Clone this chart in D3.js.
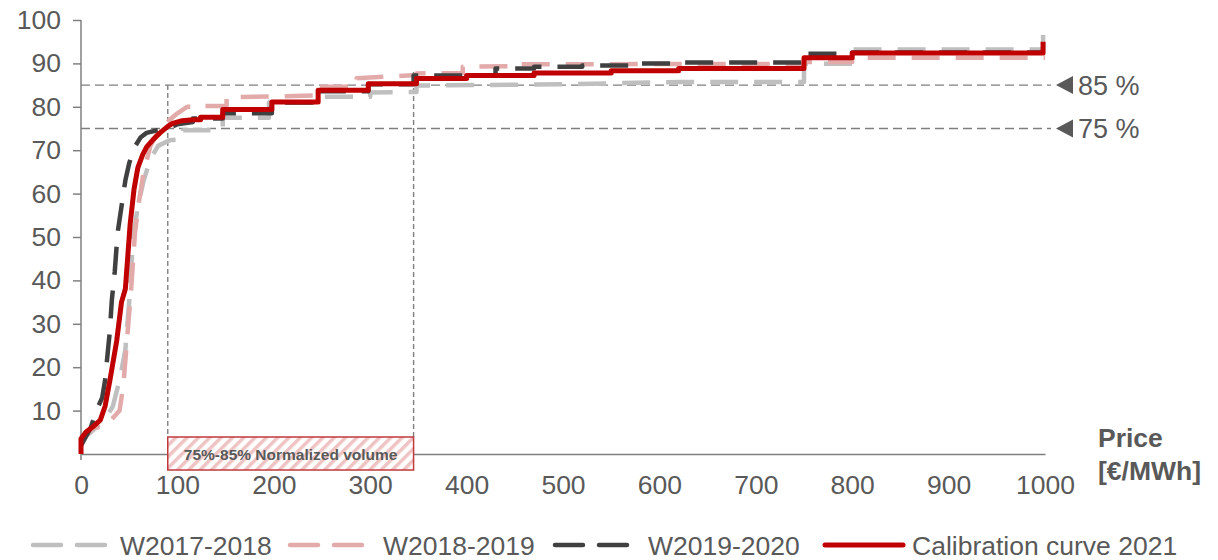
<!DOCTYPE html>
<html><head><meta charset="utf-8">
<script src="https://cdn.jsdelivr.net/npm/d3@7"></script>
<style>
html,body{margin:0;padding:0;background:#fff;}
svg{display:block;font-family:"Liberation Sans",Arial,sans-serif;}
</style></head>
<body><svg id="c" width="1218" height="560"></svg>
<script>
// ---- data ----
const xTicks = [0,100,200,300,400,500,600,700,800,900,1000];
const yTicks = [10,20,30,40,50,60,70,80,90,100];
const seriesNames = ["W2017-2018","W2018-2019","W2019-2020","Calibration curve 2021"];

const w1718Price = [0,5,15,25,33,40,46,50,54,59,65,72,80,92,106,106,147,147,195,195,250,250,300,300,348,348,500,620,750,750,800,800,998,998];
const w1718Pct   = [2,4,6,8,11,17,24,35,50,57,63,68,71,72.3,72.5,74.6,74.6,77.5,77.5,81,81,82.3,82.3,83.3,83.4,84.9,85.2,85.7,85.7,89.9,89.9,93.2,93.2,98.8];

const w1819Price = [0,5,12,27,32,40,44,48,52,56,60,65,72,82,92,100,110,127,127,151,151,246,246,286,286,348,348,396,396,450,450,750,750,800,800,1000];
const w1819Pct   = [2,4,6,6.5,8,10,16,27,38,51,58,65,71,75,77,78.5,80,80,80.2,80.2,82.2,82.6,84.6,84.6,86.6,87.3,87.7,87.8,89.2,89.4,89.8,89.9,90.3,90.3,91.3,91.3];

const w1920Price = [0,5,10,16,22,25,28,30,32,35,38,42,46,50,55,62,68,79,92,100,116,116,147,147,198,198,246,246,298,298,345,345,430,430,470,470,520,520,570,570,620,620,750,750,800,800,1000];
const w1920Pct   = [2,4,6,10,13,17,24,28.5,35.5,42,51,57,63,67,70.5,73,74,74.6,75.2,76,76.5,77.3,77.3,78.5,78.5,81,81,83.6,83.6,85.2,85.2,87.2,87.2,88.8,88.8,89.2,89.2,89.5,89.5,90,90,90.2,90.2,92.2,92.2,92.5,92.5];

const calibPrice = [0,0,5,12,20,25,30,37,42,46,51,55,59,64,68,75,82,90,95,105,116,124,124,147,147,198,198,246,246,298,298,348,348,400,400,470,470,550,550,620,620,750,750,800,800,998,998];
const calibPct   = [0,3.5,5,6.2,7.8,11,17,26,35,38,53,61,66,69,70.7,72.5,74,75.5,76.2,76.8,77,77,77.6,77.6,79.4,79.4,81.1,81.1,83.8,83.8,85.3,85.3,86.5,86.5,87.2,87.2,87.8,87.8,88.3,88.3,88.8,88.8,91.3,91.3,92.4,92.4,95];

const refLevels = [85,75];          // horizontal reference levels (%)
const refLabels = ["85 %","75 %"];
const volumeRange = [90,345];       // normalized-volume price band
const volumeTop = [85,88];          // where the vertical markers start (%)
const bandLabel = "75%-85% Normalized volume";
const xTitle = ["Price","[€/MWh]"];

// ---- chart ----
const svg = d3.select("#c");
const x = d3.scaleLinear().domain([0,1000]).range([81,1045]);
const y = d3.scaleLinear().domain([0,100]).range([454,20]);
const textCol = "#595959", axisCol = "#808080";
const FS = 26.5;

const defs = svg.append("defs");
const pat = defs.append("pattern").attr("id","hatch").attr("patternUnits","userSpaceOnUse")
  .attr("width",8).attr("height",8).attr("patternTransform","rotate(45)");
pat.append("rect").attr("width",8).attr("height",8).attr("fill","#fff");
pat.append("rect").attr("x",0).attr("width",3.5).attr("height",8).attr("fill","#efc3c3");

// reference horizontal dashed lines
refLevels.forEach((v,i)=>{
  svg.append("line").attr("x1",x(0)).attr("x2",x(1000)+6).attr("y1",y(v)).attr("y2",y(v))
    .attr("stroke","#7f7f7f").attr("stroke-width",1.4).attr("stroke-dasharray","9,5");
  const ty = y(v), tx = x(1000)+11;
  svg.append("path").attr("d",`M${tx},${ty} L${tx+17},${ty-9} L${tx+17},${ty+9} Z`).attr("fill",textCol);
  svg.append("text").attr("x",tx+22).attr("y",ty).attr("dy","0.36em").attr("fill",textCol)
    .attr("font-size",27).text(refLabels[i]);
});

// vertical markers
const boxTop = y(0)-17, boxBot = y(0)+16;
volumeRange.forEach((v,i)=>{
  svg.append("line").attr("x1",x(v)).attr("x2",x(v)).attr("y1",y(volumeTop[i])).attr("y2",boxTop)
    .attr("stroke","#7f7f7f").attr("stroke-width",1.4).attr("stroke-dasharray","5,3");
});

// axes
const yAxis = d3.axisLeft(y).tickValues(yTicks).tickSize(8).tickPadding(12).tickSizeOuter(0);
const gy = svg.append("g").attr("transform",`translate(${x(0)},0)`).call(yAxis);
gy.select(".domain").attr("stroke",axisCol).attr("stroke-width",1.5).attr("d",`M0,${y(100)}V${y(0)+6}`);
gy.selectAll(".tick line").attr("stroke",axisCol).attr("stroke-width",1.5);
gy.selectAll("text").attr("fill",textCol).attr("font-size",FS).attr("font-family","Liberation Sans, Arial, sans-serif");

const xAxis = d3.axisBottom(x).tickValues(xTicks).tickFormat(d3.format("d")).tickSize(0).tickPadding(21).tickSizeOuter(0);
const gx = svg.append("g").attr("transform",`translate(0,${y(0)})`).call(xAxis);
gx.select(".domain").attr("stroke",axisCol).attr("stroke-width",1.5);
gx.selectAll("text").attr("fill",textCol).attr("font-size",FS).attr("font-family","Liberation Sans, Arial, sans-serif");

svg.append("rect").attr("x",x(volumeRange[0])).attr("y",boxTop).attr("width",x(volumeRange[1])-x(volumeRange[0]))
  .attr("height",boxBot-boxTop).attr("fill","url(#hatch)").attr("stroke","#c0393b").attr("stroke-width",1.5);
svg.append("text").attr("x",(x(volumeRange[0])+x(volumeRange[1]))/2).attr("y",(boxTop+boxBot)/2+1).attr("dy","0.36em")
  .attr("text-anchor","middle").attr("font-weight","bold").attr("font-size",15.5).attr("fill",textCol).text(bandLabel);

// axis title
svg.append("text").attr("x",1098).attr("y",437).attr("dy","0.36em").attr("font-weight","bold").attr("font-size",26.5)
  .attr("fill",textCol).text(xTitle[0]);
svg.append("text").attr("x",1098).attr("y",470).attr("dy","0.36em").attr("font-weight","bold").attr("font-size",26.5)
  .attr("fill",textCol).text(xTitle[1]);

// series
const line = d3.line().x(d=>x(d[0])).y(d=>y(d[1]));
const series = [
  {px:w1718Price, py:w1718Pct, color:"#bfbfbf", w:4.5, dash:"28,16"},
  {px:w1819Price, py:w1819Pct, color:"#e3aaaa", w:4.5, dash:"28,16"},
  {px:w1920Price, py:w1920Pct, color:"#404040", w:4.5, dash:"28,16"},
  {px:calibPrice, py:calibPct, color:"#c00000", w:5, dash:null}
];
series.forEach(s=>{
  const pts = s.px.map((v,i)=>[v,s.py[i]]);
  svg.append("path").datum(pts).attr("d",line).attr("fill","none").attr("stroke",s.color)
    .attr("stroke-width",s.w).attr("stroke-dasharray",s.dash).attr("stroke-linejoin","round");
});

// legend
const legX = [33,290,555,825], legTextX = [120,383,648,912], legY = 545;
series.forEach((s,i)=>{
  svg.append("line").attr("x1",legX[i]).attr("x2",legX[i]+78).attr("y1",legY).attr("y2",legY)
    .attr("stroke",s.color).attr("stroke-width",s.w).attr("stroke-dasharray",s.dash ? "28,16" : null)
    .attr("stroke-linecap","round");
  svg.append("text").attr("x",legTextX[i]).attr("y",legY).attr("dy","0.36em").attr("font-size",FS)
    .attr("fill",textCol).text(seriesNames[i]);
});
</script></body></html>
